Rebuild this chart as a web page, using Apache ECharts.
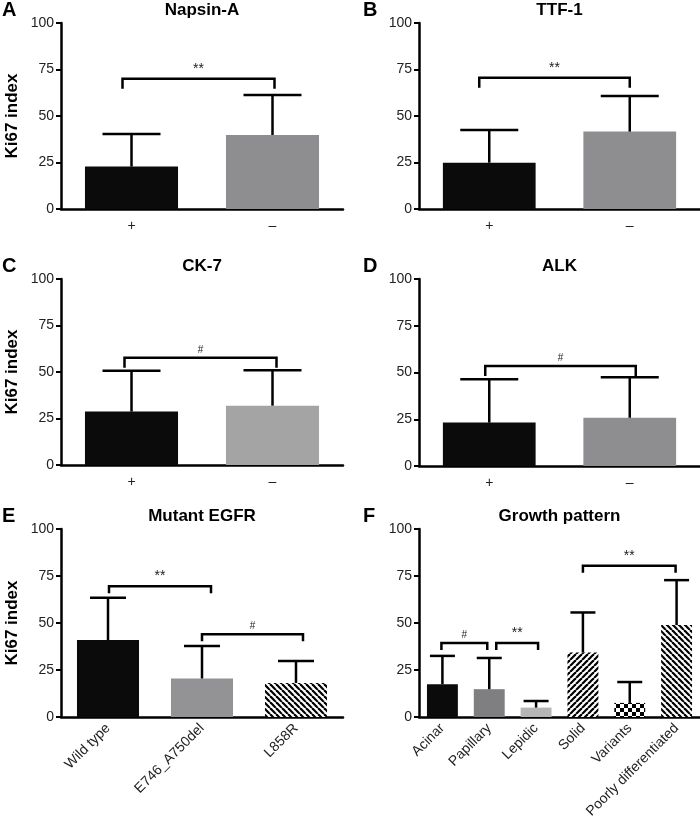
<!DOCTYPE html>
<html>
<head>
<meta charset="utf-8">
<script src="https://cdn.jsdelivr.net/npm/echarts@6/dist/echarts.min.js"></script>
<style>
  html, body { margin: 0; padding: 0; background: #fff; }
  #main { width: 700px; height: 822px; }
</style>
</head>
<body>
<div id="main"></div>
<script>
// categories
const catsA = ['+', '\u2013'];
const catsB = ['+', '\u2013'];
const catsC = ['+', '\u2013'];
const catsD = ['+', '\u2013'];
const catsE = ['Wild type', 'E746_A750del', 'L858R'];
const catsF = ['Acinar', 'Papillary', 'Lepidic', 'Solid', 'Variants', 'Poorly differentiated'];

// means and SD (upper error)
const meanA = [22.8, 39.8];
const sdA = [17.5, 21.5];
const meanB = [24.9, 41.6];
const sdB = [17.6, 19.2];
const meanC = [28.7, 31.9];
const sdC = [22.0, 19.1];
const meanD = [23.2, 25.8];
const sdD = [23.2, 21.6];
const meanE = [40.9, 20.5, 18.1];
const sdE = [22.5, 17.3, 11.7];
const meanF = [17.4, 14.8, 5.0, 34.3, 7.5, 48.9];
const sdF = [15.1, 16.6, 3.5, 21.3, 11.1, 23.9];

// significance brackets: [from, to, height, mark]
const sigA = [[0, 1, 70, '**']];
const sigB = [[0, 1, 70.5, '**']];
const sigC = [[0, 1, 57.6, '#']];
const sigD = [[0, 1, 53.5, '#']];
const sigE = [[0, 1, 69.6, '**'], [1, 2, 44, '#']];
const sigF = [[0, 1, 39.4, '#'], [1, 2, 39.4, '**'], [3, 5, 80.4, '**']];

// fill patterns
function hatch(dir) {
    const s = 6;
    const c = document.createElement('canvas');
    c.width = s; c.height = s;
    const ctx = c.getContext('2d');
    ctx.fillStyle = '#fff';
    ctx.fillRect(0, 0, s, s);
    ctx.strokeStyle = '#000';
    ctx.lineWidth = 2.2;
    for (let k = -s; k <= s; k += s) {
        ctx.beginPath();
        if (dir === '\\') {
            ctx.moveTo(k, 0); ctx.lineTo(k + s, s);
        } else {
            ctx.moveTo(k, s); ctx.lineTo(k + s, 0);
        }
        ctx.stroke();
    }
    return { image: c, repeat: 'repeat' };
}
function checker() {
    const s = 4;
    const c = document.createElement('canvas');
    c.width = 2 * s; c.height = 2 * s;
    const ctx = c.getContext('2d');
    ctx.fillStyle = '#fff';
    ctx.fillRect(0, 0, 2 * s, 2 * s);
    ctx.fillStyle = '#000';
    ctx.fillRect(0, 0, s, s);
    ctx.fillRect(s, s, s, s);
    return { image: c, repeat: 'repeat' };
}

const BLACK = '#0b0b0b';
// nudge: pixel shift of bracket legs [left, right], per bracket
const panels = [
    { key: 'A', title: 'Napsin-A', cats: catsA, mean: meanA, sd: sdA, sig: sigA, nudge: [[-9, 2]],
      fills: [BLACK, '#8e8e91'], grid: { left: 61, top: 23, width: 282, height: 186 }, cap: 58, yName: true },
    { key: 'B', title: 'TTF-1', cats: catsB, mean: meanB, sd: sdB, sig: sigB, nudge: [[-10, 0]],
      fills: [BLACK, '#8e8e91'], grid: { left: 419, top: 23, width: 281, height: 186 }, cap: 58, yName: false },
    { key: 'C', title: 'CK-7', cats: catsC, mean: meanC, sd: sdC, sig: sigC, nudge: [[-7, 4]],
      fills: [BLACK, '#a4a4a4'], grid: { left: 61, top: 279, width: 282, height: 186 }, cap: 58, yName: true },
    { key: 'D', title: 'ALK', cats: catsD, mean: meanD, sd: sdD, sig: sigD, nudge: [[-4, 6]],
      fills: [BLACK, '#8e8e91'], grid: { left: 419, top: 279, width: 281, height: 187 }, cap: 58, yName: false },
    { key: 'E', title: 'Mutant EGFR', cats: catsE, mean: meanE, sd: sdE, sig: sigE, nudge: [[1, 9], [0, 7]],
      fills: [BLACK, '#939396', hatch('\\')], grid: { left: 61, top: 529, width: 282, height: 188 }, cap: 36, yName: true, rot: true },
    { key: 'F', title: 'Growth pattern', cats: catsF, mean: meanF, sd: sdF, sig: sigF, nudge: [[-1, -2], [7, 2], [0, -1]],
      fills: [BLACK, '#7f7f81', '#b6b6b6', hatch('/'), checker(), hatch('\\')], grid: { left: 419, top: 529, width: 281, height: 188 }, cap: 25, yName: false, rot: true }
];

const FONT = 'Liberation Sans, Arial, Helvetica, sans-serif';
const grids = [], xAxes = [], yAxes = [], series = [], graphics = [];

panels.forEach(function (p, i) {
    grids.push(p.grid);
    xAxes.push({
        type: 'category', gridIndex: i, data: p.cats,
        axisLine: { lineStyle: { color: '#000', width: 2.5 } },
        axisTick: { alignWithLabel: true, length: 7, lineStyle: { color: '#000', width: 2.5 } },
        axisLabel: p.rot
            ? { rotate: 45, fontSize: 14, color: '#222', fontFamily: FONT, margin: 9, interval: 0 }
            : { fontSize: 14, color: '#222', fontFamily: FONT, margin: 10, interval: 0 }
    });
    yAxes.push({
        type: 'value', gridIndex: i, min: 0, max: 100, interval: 25,
        name: p.yName ? 'Ki67 index' : '',
        nameLocation: 'middle', nameGap: 40,
        nameTextStyle: { fontSize: 17, fontWeight: 'bold', color: '#000', fontFamily: FONT },
        splitLine: { show: false },
        axisLine: { show: true, lineStyle: { color: '#000', width: 2.5 } },
        axisTick: { show: true, length: 5, lineStyle: { color: '#000', width: 2 } },
        axisLabel: { fontSize: 14, color: '#222', fontFamily: FONT, margin: 7 }
    });
    series.push({
        type: 'bar', xAxisIndex: i, yAxisIndex: i, barWidth: '66%',
        data: p.mean.map(function (v, j) {
            return { value: v, itemStyle: { color: p.fills[j] } };
        }),
        silent: true, z: 2
    });
    // error bars
    series.push({
        type: 'custom', xAxisIndex: i, yAxisIndex: i, z: 3, silent: true,
        data: p.mean.map(function (v, j) { return [j, v, p.sd[j]]; }),
        encode: { x: 0, y: 1 },
        renderItem: function (params, api) {
            const base = api.coord([api.value(0), api.value(1)]);
            const top = api.coord([api.value(0), api.value(1) + api.value(2)]);
            const st = { stroke: '#000', lineWidth: 2.5 };
            return {
                type: 'group', children: [
                    { type: 'line', shape: { x1: base[0], y1: base[1], x2: top[0], y2: top[1] }, style: st },
                    { type: 'line', shape: { x1: top[0] - p.cap / 2, y1: top[1], x2: top[0] + p.cap / 2, y2: top[1] }, style: st }
                ]
            };
        }
    });
    // significance brackets
    series.push({
        type: 'custom', xAxisIndex: i, yAxisIndex: i, z: 4, silent: true,
        data: p.sig.map(function (s) { return [s[0], s[1], s[2]]; }),
        encode: { x: 0, y: 2 },
        renderItem: function (params, api) {
            const s = p.sig[params.dataIndex];
            const n = p.nudge[params.dataIndex];
            const a = api.coord([s[0], s[2]]);
            const b = api.coord([s[1], s[2]]);
            const x1 = a[0] + n[0], x2 = b[0] + n[1];
            const leg = p.rot ? 7 : 10;
            return {
                type: 'group', children: [
                    { type: 'polyline', shape: { points: [[x1, a[1] + leg], [x1, a[1]], [x2, a[1]], [x2, a[1] + leg]] },
                      style: { stroke: '#000', lineWidth: 2.5, fill: null } },
                    { type: 'text', x: (x1 + x2) / 2, y: a[1] - 3,
                      style: { text: s[3], fontSize: s[3] === '#' ? 10 : 14, fontFamily: FONT, fill: '#222',
                               align: 'center', verticalAlign: 'bottom' } }
                ]
            };
        }
    });
    const g = p.grid;
    graphics.push({ type: 'text', x: g.left + g.width / 2, y: g.top - 21,
        style: { text: p.title, font: 'bold 17px ' + FONT, fill: '#000', align: 'center', verticalAlign: 'top' } });
    graphics.push({ type: 'text', x: (i % 2 === 0) ? 2 : 363, y: g.top - 23,
        style: { text: p.key, font: 'bold 20px ' + FONT, fill: '#000', verticalAlign: 'top' } });
});

const chart = echarts.init(document.getElementById('main'), null, { renderer: 'canvas' });
chart.setOption({
    animation: false,
    backgroundColor: '#fff',
    grid: grids,
    xAxis: xAxes,
    yAxis: yAxes,
    series: series,
    graphic: graphics
});
</script>
</body>
</html>
